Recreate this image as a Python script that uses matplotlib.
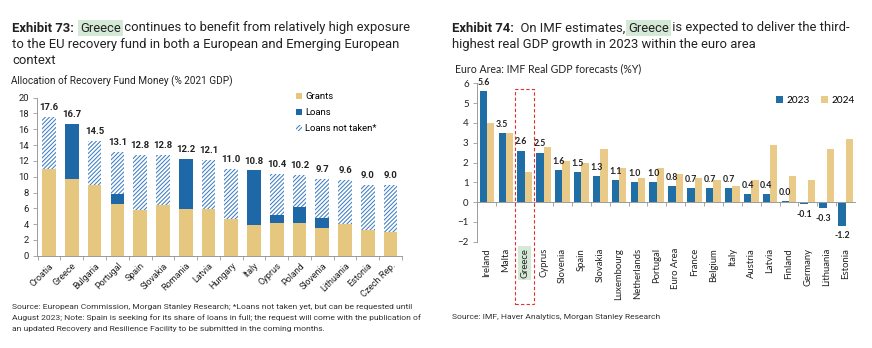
import matplotlib
matplotlib.use('Agg')
import matplotlib.pyplot as plt
import numpy as np
from matplotlib.patches import Patch, Rectangle
import matplotlib.transforms as mtransforms

# ---------------- data ----------------
countries_l = ["Croatia", "Greece", "Bulgaria", "Portugal", "Spain", "Slovakia", "Romania", "Latvia",
               "Hungary", "Italy", "Cyprus", "Poland", "Slovenia", "Lithuania", "Estonia", "Czech Rep."]
totals = [17.6, 16.7, 14.5, 13.1, 12.8, 12.8, 12.2, 12.1, 11.0, 10.8, 10.4, 10.2, 9.7, 9.6, 9.0, 9.0]
grants = [11.0, 9.7, 8.9, 6.5, 5.8, 6.4, 5.9, 5.9, 4.7, 3.9, 4.2, 4.2, 3.5, 4.0, 3.2, 3.0]
loans = [0.0, 7.0, 0.0, 1.3, 0.0, 0.0, 6.3, 0.0, 0.0, 6.9, 0.9, 2.0, 1.3, 0.0, 0.0, 0.0]

countries_r = ["Ireland", "Malta", "Greece", "Cyprus", "Slovenia", "Spain", "Slovakia", "Luxembourg",
               "Netherlands", "Portugal", "Euro Area", "France", "Belgium", "Italy", "Austria", "Latvia",
               "Finland", "Germany", "Lithuania", "Estonia"]
gdp2023 = [5.6, 3.5, 2.6, 2.5, 1.6, 1.5, 1.3, 1.1, 1.0, 1.0, 0.8, 0.7, 0.7, 0.7, 0.4, 0.4, 0.04, -0.1, -0.3, -1.2]
gdp2024 = [4.0, 3.5, 1.5, 2.8, 2.1, 2.0, 2.7, 1.7, 1.2, 1.7, 1.4, 1.2, 1.1, 0.8, 1.1, 2.9, 1.3, 1.1, 2.7, 3.2]

# ---------------- style ----------------
W, H = 872, 348
TAN = '#E6C77F'
BLUE = '#1F68A8'
HATCH_C = '#3F7EC2'
BLUE_R = '#1F6EA6'
TAN_R = '#E9CA88'
HIL = '#D4EAD6'
TXT = '#222222'
GREY = '#9A9A9A'
HATCH = '////////'
plt.rcParams['hatch.linewidth'] = 0.75
plt.rcParams['font.family'] = ['Roboto', 'DejaVu Sans']

fig = plt.figure(figsize=(W / 100, H / 100), dpi=100)
renderer = fig.canvas.get_renderer()


def fx(px):
    return px / W


def fy(py):
    return 1 - py / H


def seq_text(x, y, parts, size):
    for s, kw in parts:
        t = fig.text(fx(x), fy(y), s, fontsize=size, va='baseline', ha='left', color=TXT, **kw)
        bb = t.get_window_extent(renderer=renderer)
        x = bb.x1


# ---------------- titles ----------------
TS = 9.4
seq_text(12, 31.5, [("Exhibit 73:", dict(fontweight='bold')),
                    ("  ", {}),
                    ("Greece", dict(bbox=dict(boxstyle='square,pad=0.15', fc=HIL, ec='none'))),
                    (" continues to benefit from relatively high exposure", {})], TS)
fig.text(fx(12), fy(48), "to the EU recovery fund in both a European and Emerging European",
         fontsize=TS, va='baseline', color=TXT)
fig.text(fx(12), fy(64.5), "context", fontsize=TS, va='baseline', color=TXT)
fig.text(fx(11), fy(84), "Allocation of Recovery Fund Money (% 2021 GDP)", fontsize=7.2,
         va='baseline', color=TXT)

seq_text(452, 31.5, [("Exhibit 74:", dict(fontweight='bold')),
                     ("  On IMF estimates, ", {}),
                     ("Greece", dict(bbox=dict(boxstyle='square,pad=0.15', fc=HIL, ec='none'))),
                     (" is expected to deliver the third-", {})], TS)
fig.text(fx(452), fy(48), "highest real GDP growth in 2023 within the euro area",
         fontsize=TS, va='baseline', color=TXT)
fig.text(fx(455), fy(72), "Euro Area: IMF Real GDP forecasts (%Y)", fontsize=7.6,
         va='baseline', color=TXT, family=['Lato', 'DejaVu Sans'])

# sources
src_l = ["Source: European Commission, Morgan Stanley Research; *Loans not taken yet, but can be requested until",
         "August 2023; Note: Spain is seeking for its share of loans in full; the request will come with the publication of",
         "an updated Recovery and Resilience Facility to be submitted in the coming months."]
for i, s in enumerate(src_l):
    fig.text(fx(12), fy(309 + 11.2 * i), s, fontsize=6.1, va='baseline', color='#333333')
fig.text(fx(452), fy(319), "Source: IMF, Haver Analytics, Morgan Stanley Research", fontsize=6.1,
         va='baseline', color='#333333')

# ---------------- left chart ----------------
axL = fig.add_axes([fx(37), fy(255.7), (402 - 37) / W, 158 / H])
x = np.arange(len(countries_l))
g = np.array(grants)
l = np.array(loans)
t = np.array(totals)
nt = t - g - l
bw = 0.6
axL.bar(x, g, bw, color=TAN, linewidth=0)
axL.bar(x, l, bw, bottom=g, color=BLUE, linewidth=0)
axL.bar(x, nt, bw, bottom=g + l, facecolor='white', edgecolor=HATCH_C, hatch=HATCH, linewidth=0)
for xi, ti in zip(x, t):
    axL.annotate(f"{ti:.1f}", (xi, ti), xytext=(0, 3.5), textcoords='offset points', ha='center',
                 va='bottom', fontsize=6.8, fontweight='bold', color=TXT)
axL.set_xlim(-0.53, len(x) - 0.5)
axL.set_ylim(0, 20)
axL.set_yticks(np.arange(0, 21, 2))
axL.tick_params(axis='y', labelsize=6.8, length=3, width=0.6, pad=3, colors=GREY, labelcolor=TXT)
axL.set_xticks(x)
axL.set_xticklabels(countries_l, rotation=45, ha='right', rotation_mode='anchor', fontsize=6.5, color=TXT)
axL.tick_params(axis='x', length=0, pad=4)
axL.set_xticks(np.arange(-0.5, len(x), 1.0), minor=True)
axL.tick_params(axis='x', which='minor', length=3, width=0.6, color=GREY)
for s in ['top', 'right']:
    axL.spines[s].set_visible(False)
for s in ['left', 'bottom']:
    axL.spines[s].set_color(GREY)
    axL.spines[s].set_linewidth(0.7)

hnd = [Patch(facecolor=TAN, linewidth=0, label='Grants'),
       Patch(facecolor=BLUE, linewidth=0, label='Loans'),
       Patch(facecolor='white', edgecolor=HATCH_C, hatch=HATCH, linewidth=0, label='Loans not taken*')]
fig.legend(handles=hnd, loc='upper left', bbox_to_anchor=(fx(296), fy(92)), frameon=False,
           fontsize=6.8, handlelength=0.6, handleheight=0.6, handletextpad=0.4, labelspacing=0.75,
           borderpad=0, borderaxespad=0)

# ---------------- right chart ----------------
axR = fig.add_axes([fx(477), fy(241.7), (855 - 477) / W, 158.4 / H])
xr = np.arange(len(countries_r))
bwr = 0.39
a23 = np.array(gdp2023)
a24 = np.array(gdp2024)
axR.bar(xr - bwr / 2, a23, bwr, color=BLUE_R, linewidth=0, label='2023')
axR.bar(xr + bwr / 2, a24, bwr, color=TAN_R, linewidth=0, label='2024')
for xi, v in zip(xr, a23):
    if v >= 0:
        axR.annotate(f"{v:.1f}", (xi - bwr / 2, v), xytext=(0, 3), textcoords='offset points',
                     ha='center', va='bottom', fontsize=6.3, fontweight='bold', color=TXT,
                     family=['Lato', 'DejaVu Sans'])
    else:
        axR.annotate(f"{v:.1f}", (xi - bwr / 2, v), xytext=(0, -4), textcoords='offset points',
                     ha='center', va='top', fontsize=6.3, fontweight='bold', color=TXT,
                     family=['Lato', 'DejaVu Sans'])
axR.set_xlim(-0.53, len(xr) - 0.5)
axR.set_ylim(-2, 6)
axR.set_yticks(np.arange(-2, 7, 1))
axR.tick_params(axis='y', labelsize=7, length=3, width=0.6, colors=GREY, labelcolor=TXT, pad=3)
for lab in axR.get_yticklabels():
    lab.set_family(['Lato', 'DejaVu Sans'])
axR.spines['bottom'].set_position(('data', 0))
axR.set_xticks(np.arange(0.5, len(xr) - 0.5, 1.0))
axR.set_xticklabels([])
axR.tick_params(axis='x', length=3, width=0.6, colors=GREY, direction='out')
for s in ['top', 'right']:
    axR.spines[s].set_visible(False)
for s in ['left', 'bottom']:
    axR.spines[s].set_color(GREY)
    axR.spines[s].set_linewidth(0.7)
trans = axR.get_xaxis_transform()
for xi, c in zip(xr, countries_r):
    kw = {}
    if c == 'Greece':
        kw['bbox'] = dict(boxstyle='square,pad=0.2', fc=HIL, ec='none')
    axR.text(xi, -0.04, c, transform=trans, rotation=90, ha='center', va='top', fontsize=6.8,
             color=TXT, family=['Lato', 'DejaVu Sans'], **kw)

# dashed red highlight box for Greece
btr = mtransforms.blended_transform_factory(axR.transData, fig.transFigure)
rect = Rectangle((1.5, fy(304)), 1.0, (304 - 89) / H, transform=btr, fill=False,
                 edgecolor='#E03030', linestyle=(0, (3, 2)), linewidth=0.8, clip_on=False)
fig.add_artist(rect)

axR.legend(loc='upper left', bbox_to_anchor=(fx(776), fy(96)), bbox_transform=fig.transFigure,
           ncol=2, frameon=False, prop=dict(family=['Lato', 'DejaVu Sans'], size=7.2),
           handlelength=0.7, handleheight=0.7, handletextpad=0.3, columnspacing=1.2,
           borderpad=0, borderaxespad=0)

fig.savefig('out.png', dpi=100)
